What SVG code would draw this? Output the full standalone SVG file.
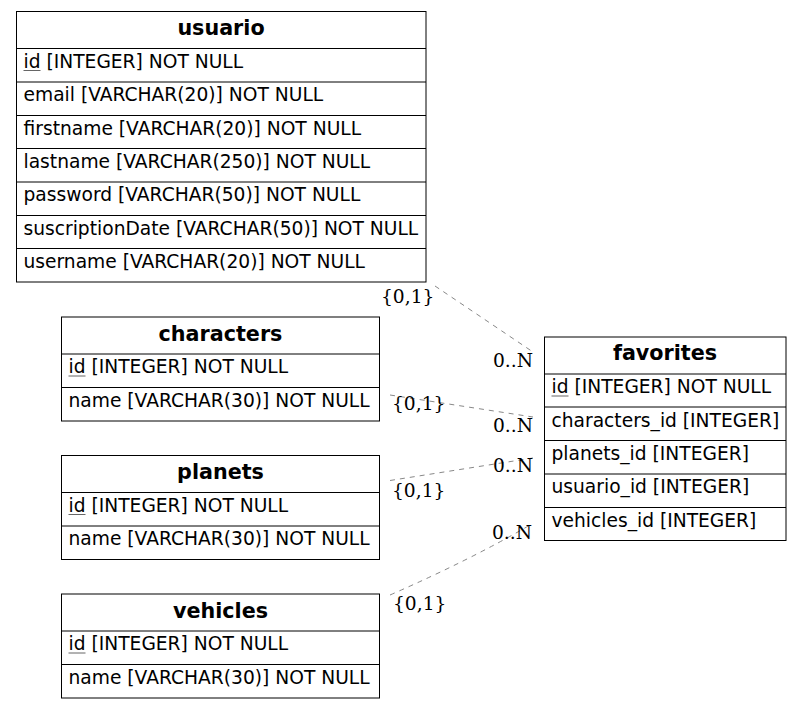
<svg xmlns="http://www.w3.org/2000/svg" width="801" height="709" viewBox="0 0 801 709">
<style>
.box{fill:#fff;stroke:#000;stroke-width:1}
.sep{stroke:#000;stroke-width:1}
.h{font-family:"DejaVu Sans",sans-serif;font-weight:bold;font-size:20.7px;text-anchor:middle;fill:#000}
.t{font-family:"DejaVu Sans",sans-serif;font-size:18.67px;fill:#000}
.u{stroke:#666;stroke-width:1}
.e{fill:none;stroke:#888;stroke-width:1;stroke-dasharray:5,5}
.l{font-family:"DejaVu Serif",serif;font-size:18.67px;fill:#000}
</style>
<rect width="801" height="709" fill="#fff"/>
<g id="usuario">
<rect class="box" x="16.5" y="11.5" width="409.5" height="270.5"/>
<line class="sep" x1="16.5" y1="48.5" x2="426" y2="48.5"/>
<line class="sep" x1="16.5" y1="82" x2="426" y2="82"/>
<line class="sep" x1="16.5" y1="115.5" x2="426" y2="115.5"/>
<line class="sep" x1="16.5" y1="148.5" x2="426" y2="148.5"/>
<line class="sep" x1="16.5" y1="182" x2="426" y2="182"/>
<line class="sep" x1="16.5" y1="215.5" x2="426" y2="215.5"/>
<line class="sep" x1="16.5" y1="248.5" x2="426" y2="248.5"/>
<text class="h" x="221" y="34.5">usuario</text>
<text class="t" x="23.5" y="67.5">id [INTEGER] NOT NULL</text>
<line class="u" x1="23.5" y1="70.5" x2="40.5" y2="70.5"/>
<text class="t" x="23.5" y="101">email [VARCHAR(20)] NOT NULL</text>
<text class="t" x="23.5" y="134.5">firstname [VARCHAR(20)] NOT NULL</text>
<text class="t" x="23.5" y="167.5">lastname [VARCHAR(250)] NOT NULL</text>
<text class="t" x="23.5" y="201">password [VARCHAR(50)] NOT NULL</text>
<text class="t" x="23.5" y="234.5">suscriptionDate [VARCHAR(50)] NOT NULL</text>
<text class="t" x="23.5" y="267.5">username [VARCHAR(20)] NOT NULL</text>
</g>
<g id="characters">
<rect class="box" x="61.5" y="317" width="318" height="104"/>
<line class="sep" x1="61.5" y1="354" x2="379.5" y2="354"/>
<line class="sep" x1="61.5" y1="387.5" x2="379.5" y2="387.5"/>
<text class="h" x="220.5" y="340.5">characters</text>
<text class="t" x="68.5" y="373">id [INTEGER] NOT NULL</text>
<line class="u" x1="68.5" y1="376" x2="85.5" y2="376"/>
<text class="t" x="68.5" y="406.5">name [VARCHAR(30)] NOT NULL</text>
</g>
<g id="planets">
<rect class="box" x="61.5" y="455.5" width="318" height="104"/>
<line class="sep" x1="61.5" y1="492.5" x2="379.5" y2="492.5"/>
<line class="sep" x1="61.5" y1="526" x2="379.5" y2="526"/>
<text class="h" x="220.5" y="479">planets</text>
<text class="t" x="68.5" y="511.5">id [INTEGER] NOT NULL</text>
<line class="u" x1="68.5" y1="514.5" x2="85.5" y2="514.5"/>
<text class="t" x="68.5" y="545">name [VARCHAR(30)] NOT NULL</text>
</g>
<g id="vehicles">
<rect class="box" x="61.5" y="594" width="318" height="104"/>
<line class="sep" x1="61.5" y1="631" x2="379.5" y2="631"/>
<line class="sep" x1="61.5" y1="664.5" x2="379.5" y2="664.5"/>
<text class="h" x="220.5" y="617.5">vehicles</text>
<text class="t" x="68.5" y="650">id [INTEGER] NOT NULL</text>
<line class="u" x1="68.5" y1="653" x2="85.5" y2="653"/>
<text class="t" x="68.5" y="683.5">name [VARCHAR(30)] NOT NULL</text>
</g>
<g id="favorites">
<rect class="box" x="544.5" y="337" width="241.5" height="203.5"/>
<line class="sep" x1="544.5" y1="374" x2="786" y2="374"/>
<line class="sep" x1="544.5" y1="407" x2="786" y2="407"/>
<line class="sep" x1="544.5" y1="440.5" x2="786" y2="440.5"/>
<line class="sep" x1="544.5" y1="474" x2="786" y2="474"/>
<line class="sep" x1="544.5" y1="507.5" x2="786" y2="507.5"/>
<text class="h" x="665" y="359.5">favorites</text>
<text class="t" x="551.5" y="393">id [INTEGER] NOT NULL</text>
<line class="u" x1="551.5" y1="396" x2="568.5" y2="396" stroke="#999"/>
<text class="t" x="551.5" y="426.5">characters_id [INTEGER]</text>
<text class="t" x="551.5" y="460">planets_id [INTEGER]</text>
<text class="t" x="551.5" y="493">usuario_id [INTEGER]</text>
<text class="t" x="551.5" y="526.5">vehicles_id [INTEGER]</text>
</g>
<g id="connectors">
<path class="e" d="M435,286 L533,352"/>
<path class="e" d="M390,395 L533,417"/>
<path class="e" d="M390,480.5 L533,458"/>
<path class="e" d="M390,595 Q470,560 530,525"/>
<text class="l" x="381" y="303">{0,1}</text>
<text class="l" x="493" y="367">0..N</text>
<text class="l" x="392" y="410">{0,1}</text>
<text class="l" x="493" y="431.5">0..N</text>
<text class="l" x="493" y="471.5">0..N</text>
<text class="l" x="392" y="496.5">{0,1}</text>
<text class="l" x="492" y="539">0..N</text>
<text class="l" x="393" y="610">{0,1}</text>
</g>
</svg>
